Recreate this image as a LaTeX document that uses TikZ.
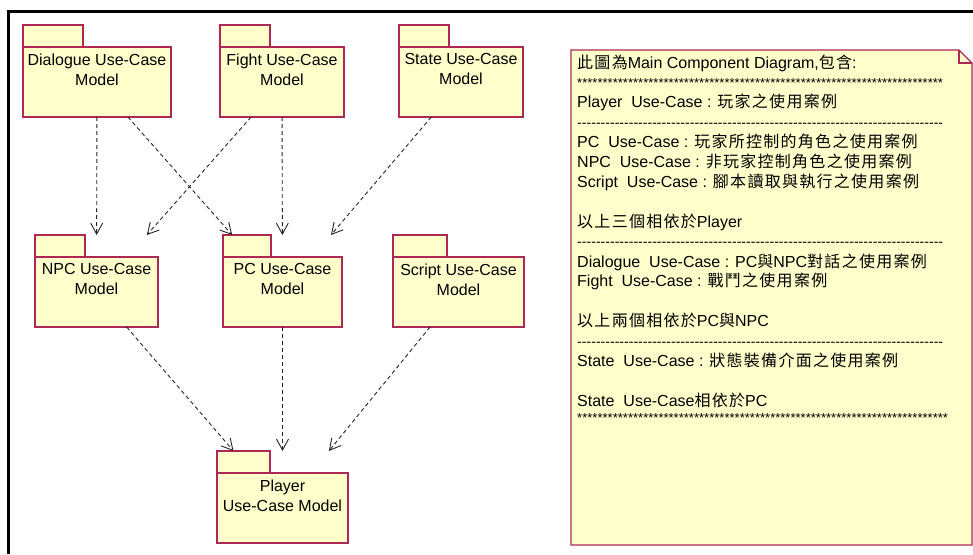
\documentclass[tikz,border=0pt]{standalone}
\usepackage{fontspec}
\setmainfont{Liberation Sans}
\newfontfamily\cjkfont[LetterSpace=8]{Noto Sans CJK TC}
\usetikzlibrary{arrows.meta}

\newcommand{\cj}[1]{{\cjkfont #1}}
% row of repeated characters filling a given width
\newcommand{\fillrow}[3]{{\fontsize{#1}{#1}\selectfont\hbox to #2pt{\xleaders\hbox{#3}\hfill}}}

\definecolor{pkgline}{RGB}{175,40,85}
\definecolor{pkgfill}{RGB}{255,255,204}

% UML package: name, left x, tab top y, tab width, body width, label
\newcommand{\umlpkg}[6]{%
  \node[pkgtab, minimum width=#4pt, anchor=north west] (#1-tab) at (#2,#3) {};
  \node[pkgbody, minimum width=#5pt, anchor=north west] (#1) at (#2,#3+22) {};
  \node[pkghit, minimum width=#5pt] (#1-in) at (#1.center) {};
  \node[pkgtext, anchor=north] (#1-txt) at ([yshift=-6.5pt]#1.north) {#6};
}

\begin{document}
\begin{tikzpicture}[x=1pt,y=-1pt,
  pkgtab/.style={draw=pkgline, fill=pkgfill, line width=1.2pt, minimum height=22pt, inner sep=0pt, outer sep=0pt},
  pkgbody/.style={draw=pkgline, fill=pkgfill, line width=1.2pt, minimum height=70pt, inner sep=0pt, outer sep=0pt},
  pkghit/.style={draw=none, fill=none, minimum height=114pt, inner sep=0pt, outer sep=0pt},
  pkgtext/.style={align=center, inner sep=0pt, font=\fontsize{16}{20}\selectfont},
  dep/.style={draw=black!85, line width=0.9pt, dash pattern=on 4pt off 3pt,
    -{Straight Barb[length=11pt,width=12pt]}},
  notebox/.style={draw=pkgline, fill=pkgfill, line width=1.2pt, line join=miter},
  notetext/.style={anchor=base west, inner sep=0pt, font=\fontsize{16}{19}\selectfont}]

\useasboundingbox (0,0) rectangle (973,554);
\fill[white] (0,0) rectangle (973,554);

% diagram frame
\draw[line width=2.6pt] (8.7,554) -- (8.7,11.3) -- (973,11.3);

% packages
\umlpkg{dlg}{23}{25}{60}{148}{Dialogue Use-Case\\Model}
\umlpkg{fight}{220}{25}{50}{124}{Fight Use-Case\\Model}
\umlpkg{state}{399}{25}{50}{124}{State Use-Case\\Model}
\umlpkg{npc}{35}{235}{50}{123}{NPC Use-Case\\Model}
\umlpkg{pc}{223}{235}{48}{119}{PC Use-Case\\Model}
\umlpkg{script}{393}{235}{54}{131}{Script Use-Case\\Model}
\umlpkg{player}{217}{451}{53}{131}{Player\\Use-Case Model}

% dependencies
\draw[dep] (dlg) -- (npc-in);
\draw[dep] (dlg) -- (pc-in);
\draw[dep] (fight) -- (npc-in);
\draw[dep] (fight) -- (pc-in);
\draw[dep] (state) -- (pc-in);
\draw[dep] (npc) -- (player-in);
\draw[dep] (pc) -- (player-in);
\draw[dep] (script) -- (player-in);

% note with folded corner
\draw[notebox] (571,50) -- (959,50) -- (972,63) -- (972,545) -- (571,545) -- cycle;
\draw[notebox, fill=none] (959,50) -- (959,63) -- (972,63);

\node[notetext] (n1) at (577,68) {\cj{此圖為}Main Component Diagram,\cj{包含}:};
\node[notetext] (n2) at (577,87) {\fillrow{13}{366}{*}};
\node[notetext] (n3) at (577,107.8) {Player\ \ Use-Case : \cj{玩家之使用案例}};
\node[notetext] (n4) at (577,127.7) {\fillrow{14}{366}{-}};
\node[notetext] (n5) at (577,147.6) {PC\ \ Use-Case : \cj{玩家所控制的角色之使用案例}};
\node[notetext] (n6) at (577,167.5) {NPC\ \ Use-Case : \cj{非玩家控制角色之使用案例}};
\node[notetext] (n7) at (577,187.4) {Script\ \ Use-Case : \cj{腳本讀取與執行之使用案例}};
\node[notetext] (n9) at (577,227.2) {\cj{以上三個相依於}Player};
\node[notetext] (n10) at (577,246) {\fillrow{14}{366}{-}};
\node[notetext] (n11) at (577,267) {Dialogue\ \ Use-Case : PC\cj{與}NPC\cj{對話之使用案例}};
\node[notetext] (n12) at (577,286.9) {Fight\ \ Use-Case : \cj{戰鬥之使用案例}};
\node[notetext] (n14) at (577,326.7) {\cj{以上兩個相依於}PC\cj{與}NPC};
\node[notetext] (n15) at (577,346) {\fillrow{14}{366}{-}};
\node[notetext] (n16) at (577,366.5) {State\ \ Use-Case : \cj{狀態裝備介面之使用案例}};
\node[notetext] (n18) at (577,406.3) {State\ \ Use-Case\cj{相依於}PC};
\node[notetext] (n19) at (577,422) {\fillrow{13}{371}{*}};
\end{tikzpicture}
\end{document}
